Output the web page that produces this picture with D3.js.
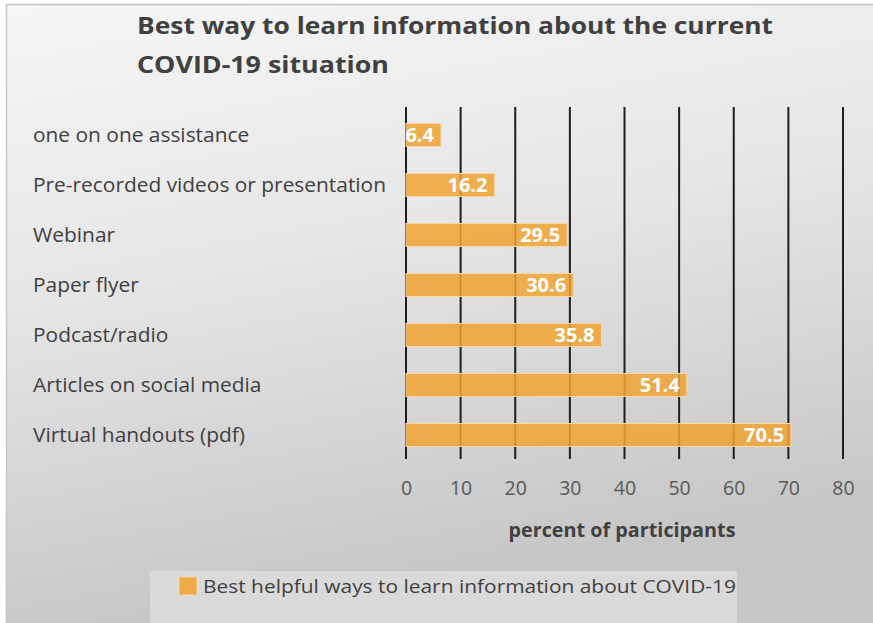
<!DOCTYPE html>
<html>
<head>
<meta charset="utf-8">
<script src="https://cdn.jsdelivr.net/npm/d3@7/dist/d3.min.js"></script>
<style>
  html, body { margin: 0; padding: 0; background: #ffffff; }
  svg { display: block; }
</style>
</head>
<body>
<svg id="chart" width="873" height="623"></svg>
<script>
// Survey answers: best ways to learn about the current COVID-19 situation
const categories = [
  "one on one assistance",
  "Pre-recorded videos or presentation",
  "Webinar",
  "Paper flyer",
  "Podcast/radio",
  "Articles on social media",
  "Virtual handouts (pdf)"
];
const values = [6.4, 16.2, 29.5, 30.6, 35.8, 51.4, 70.5];
const tickValues = [0, 10, 20, 30, 40, 50, 60, 70, 80];
const titleLines = ["Best way to learn information about the current", "COVID-19 situation"];
const axisTitle = "percent of participants";
const seriesName = "Best helpful ways to learn information about COVID-19";

const W = 873, H = 623;
const FONT = "'Open Sans', 'Noto Sans', sans-serif";
const svg = d3.select("#chart");

// Background panel with a soft light-to-grey gradient
const defs = svg.append("defs");
const grad = defs.append("linearGradient")
  .attr("id", "bg").attr("x1", "0").attr("y1", "0").attr("x2", "0.25").attr("y2", "1");
grad.append("stop").attr("offset", "0").attr("stop-color", "#f6f6f6");
grad.append("stop").attr("offset", "0.45").attr("stop-color", "#e6e6e6");
grad.append("stop").attr("offset", "1").attr("stop-color", "#c6c6c6");

svg.append("rect").attr("x", 0).attr("y", 0).attr("width", W).attr("height", H).attr("fill", "#ffffff");
svg.append("rect").attr("x", 6).attr("y", 4).attr("width", W - 6).attr("height", H - 4)
  .attr("fill", "url(#bg)");
svg.append("line").attr("x1", 6).attr("x2", W).attr("y1", 4.5).attr("y2", 4.5)
  .attr("stroke", "#c4c4c4").attr("stroke-width", 1.5);
svg.append("line").attr("x1", 6.5).attr("x2", 6.5).attr("y1", 4).attr("y2", H)
  .attr("stroke", "#c8c8c8").attr("stroke-width", 1.5);

// Title
const title = svg.append("text")
  .attr("font-family", FONT)
  .attr("font-weight", "bold").attr("font-size", 24).attr("fill", "#404040");
title.append("tspan").attr("x", 137).attr("y", 34)
  .attr("textLength", 636).attr("lengthAdjust", "spacingAndGlyphs").text(titleLines[0]);
title.append("tspan").attr("x", 137).attr("y", 73)
  .attr("textLength", 252).attr("lengthAdjust", "spacingAndGlyphs").text(titleLines[1]);

// Scales
const x = d3.scaleLinear().domain([0, 80]).range([406, 843]);
const y = d3.scaleBand().domain(categories).range([110, 460]).paddingInner(0.54).paddingOuter(0.27);

// Vertical gridlines
svg.append("g").selectAll("line").data(tickValues).join("line")
  .attr("x1", d => x(d)).attr("x2", d => x(d))
  .attr("y1", 107).attr("y2", 459)
  .attr("stroke", "#1e1e1e").attr("stroke-width", 2);

// Bars (slightly translucent so the gridlines show through)
svg.append("g").selectAll("rect").data(values).join("rect")
  .attr("x", x(0))
  .attr("y", (d, i) => y(categories[i]))
  .attr("width", d => x(d) - x(0))
  .attr("height", y.bandwidth())
  .attr("fill", "rgb(240,164,52)").attr("fill-opacity", 0.86)
  .attr("stroke", "#f7d7a6").attr("stroke-width", 1);

// Value labels inside the bar ends
svg.append("g").selectAll("text").data(values).join("text")
  .attr("x", d => x(d) - 7)
  .attr("y", (d, i) => y(categories[i]) + y.bandwidth() / 2)
  .attr("dy", "0.36em")
  .attr("text-anchor", "end")
  .attr("font-family", FONT)
  .attr("font-weight", "bold").attr("font-size", 20).attr("fill", "#ffffff")
  .text(d => d.toFixed(1));

// Category labels, stretched slightly so the longest one ends just before the axis
const catLabels = svg.append("g").selectAll("text").data(categories).join("text")
  .attr("x", 33)
  .attr("y", d => y(d) + y.bandwidth() / 2)
  .attr("dy", "0.36em")
  .attr("font-family", FONT)
  .attr("font-size", 19.5).attr("fill", "#404040")
  .text(d => d);
const widths = catLabels.nodes().map(n => n.getComputedTextLength());
const stretch = 353 / d3.max(widths);
catLabels.attr("textLength", (d, i) => widths[i] * stretch).attr("lengthAdjust", "spacingAndGlyphs");

// X axis tick labels
const xAxis = d3.axisBottom(x).tickValues(tickValues).tickSize(0).tickPadding(0).tickFormat(d3.format("d"));
const gx = svg.append("g").attr("transform", "translate(0,481)").call(xAxis);
gx.select(".domain").remove();
gx.selectAll("text")
  .attr("font-family", FONT)
  .attr("font-size", 19.5).attr("fill", "#595959");

// Axis title
svg.append("text")
  .attr("x", 622).attr("y", 537)
  .attr("text-anchor", "middle")
  .attr("font-family", FONT)
  .attr("font-weight", "bold").attr("font-size", 19).attr("fill", "#404040")
  .attr("textLength", 227).attr("lengthAdjust", "spacingAndGlyphs")
  .text(axisTitle);

// Legend
const legend = svg.append("g");
legend.append("rect").attr("x", 150).attr("y", 571).attr("width", 587).attr("height", H - 571)
  .attr("fill", "#dadada");
legend.append("rect").attr("x", 179).attr("y", 577).attr("width", 18).attr("height", 18)
  .attr("fill", "rgb(240,164,52)").attr("fill-opacity", 0.9).attr("stroke", "#f7d7a6");
legend.append("text").attr("x", 203).attr("y", 593)
  .attr("font-family", FONT)
  .attr("font-size", 18.5).attr("fill", "#404040")
  .attr("textLength", 533).attr("lengthAdjust", "spacingAndGlyphs")
  .text(seriesName);
</script>
</body>
</html>
